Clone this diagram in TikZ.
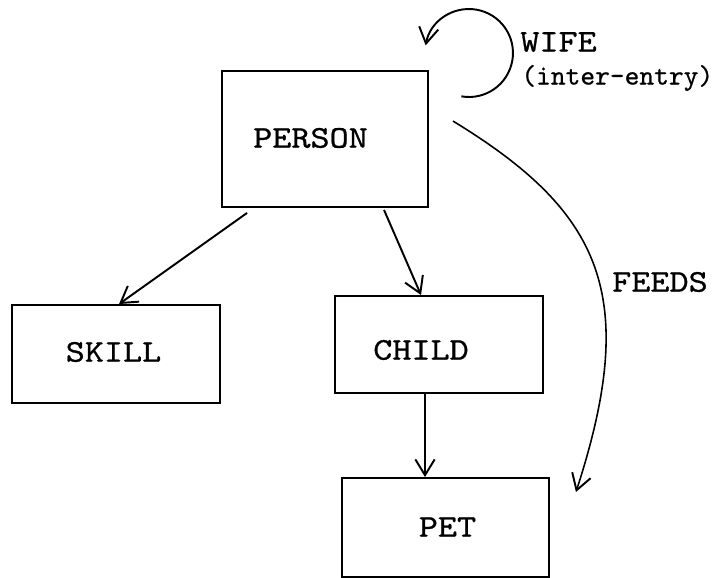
\documentclass[tikz,border=0pt]{standalone}
\usepackage{fontspec}
\setmonofont{lmmono10-regular.otf}[FakeStretch=1.15,FakeBold=0.8]
\newfontfamily\notemono{lmmono10-regular.otf}[FakeBold=0.6]
\usetikzlibrary{arrows.meta}
\begin{document}
\begin{tikzpicture}[x=0.02cm,y=0.02cm,
  entity/.style={draw,line width=1.1pt,inner sep=0pt},
  lbl/.style={font=\ttfamily\fontsize{18}{20}\selectfont,inner sep=0pt},
  note/.style={font=\notemono\fontsize{16}{18}\selectfont,inner sep=0pt},
  barb/.style={-{Straight Barb[length=9pt,width=11pt,line width=1.1pt]}},
  link/.style={barb,line width=1.1pt},
  curvelink/.style={barb,line width=0.9pt}]
\useasboundingbox (0,0) rectangle (717,578);

% record boxes
\node[entity,minimum width=4.12cm,minimum height=2.72cm] (person) at (325,439) {};
\node[entity,minimum width=4.16cm,minimum height=1.96cm] (skill) at (116,224) {};
\node[entity,minimum width=4.16cm,minimum height=1.94cm] (child) at (439,233.5) {};
\node[entity,minimum width=4.14cm,minimum height=1.98cm] (pet) at (445.5,50.5) {};

% box captions
\node[lbl] (tperson) at (310.5,440) {PERSON};
\node[lbl] (tskill) at (113.5,226) {SKILL};
\node[lbl] (tchild) at (421,228) {CHILD};
\node[lbl] (tpet) at (447.5,51) {PET};

% relationship labels
\node[lbl] (tfeeds) at (660,296) {FEEDS};
\node[lbl,anchor=west] (twife) at (520,536) {WIFE};
\node[note,anchor=west] (tinter) at (521,500) {(inter-entry)};

% owner -> member links
\draw[link] ([xshift=0.52cm,yshift=-0.1cm]person.south west) -- ([xshift=2.16cm]skill.north west);
\draw[link] ([xshift=3.26cm,yshift=-0.04cm]person.south west) -- ([xshift=1.74cm]child.north west);
\draw[link] ([xshift=-0.28cm]child.south) -- ([xshift=-0.41cm]pet.north);

% FEEDS: person -> pet
\draw[curvelink] ([xshift=0.48cm,yshift=-1.02cm]person.north east)
  .. controls (602,366) and (640,283) .. ([xshift=0.52cm,yshift=-0.3cm]pet.north east);

% WIFE: loop back onto person
\draw[link] ([xshift=0.648cm,yshift=-0.526cm]person.north east)
  arc[start angle=-100,end angle=170,radius=0.88cm];
\end{tikzpicture}
\end{document}
